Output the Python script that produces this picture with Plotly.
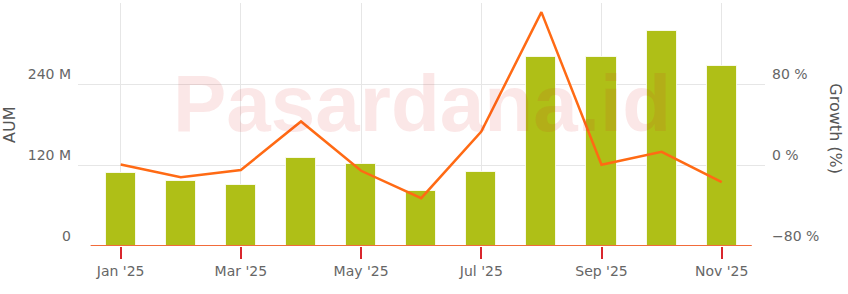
import plotly.graph_objects as go

months = ["Jan '25", "Feb '25", "Mar '25", "Apr '25", "May '25", "Jun '25",
          "Jul '25", "Aug '25", "Sep '25", "Oct '25", "Nov '25"]
aum_m = [108, 96, 89.7, 130, 122, 81, 110, 280.6, 280, 318.7, 266]
growth_pct = [0.5, -12, -5, 43, -5.7, -32.7, 33, 151, 0.3, 13, -17]

aum_ticks = [0, 120, 240, 360]
aum_ticktext = ["0", "120 M", "240 M", ""]
growth_ticks = [-80, 0, 80, 160]
growth_ticktext = ["\u221280 %", "0 %", "80 %", ""]

FONT = "DejaVu Sans"
TICKCOL = "#666666"

fig = go.Figure()
fig.add_trace(go.Bar(
    x=months, y=aum_m, width=0.5,
    marker=dict(color="#AFBF17", line=dict(color="rgba(255,255,255,0.8)", width=1)),
    yaxis="y", showlegend=False,
))
fig.add_trace(go.Scatter(
    x=months, y=growth_pct, mode="lines",
    line=dict(color="#FF6A14", width=2.5),
    yaxis="y2", showlegend=False,
))

fig.update_layout(
    width=848, height=294,
    margin=dict(l=78, r=83, t=3, b=48),
    paper_bgcolor="white", plot_bgcolor="white",
    font=dict(family=FONT, size=14, color=TICKCOL),
    xaxis=dict(
        type="category", range=[-0.71, 10.72],
        tickvals=months[::2], ticktext=months[::2],
        showgrid=True, gridcolor="#e6e6e6", gridwidth=1,
        ticks="outside", ticklen=12, tickcolor="#D9262E", tickwidth=1.5,
        showline=False, zeroline=False,
        tickfont=dict(family=FONT, size=14, color=TICKCOL),
    ),
    yaxis=dict(
        range=[0, 360], tickvals=aum_ticks, ticktext=aum_ticktext,
        showgrid=True, gridcolor="#e6e6e6", gridwidth=1,
        zeroline=False, showline=False, ticks="",
        ticklabelposition="outside top",
        ticklabelstandoff=6,
        tickfont=dict(family=FONT, size=14, color=TICKCOL),
    ),
    yaxis2=dict(
        overlaying="y", side="right",
        range=[-80, 160], tickvals=growth_ticks, ticktext=growth_ticktext,
        showgrid=False, zeroline=False, showline=False, ticks="",
        ticklabelposition="outside top",
        ticklabelstandoff=6,
        tickfont=dict(family=FONT, size=14, color=TICKCOL),
    ),
    bargap=0,
)

# orange axis baseline spanning the category band
fig.add_shape(type="line", xref="x", yref="y",
              x0=-0.5, x1=len(months) - 0.5, y0=0, y1=0,
              line=dict(color="#F26B3A", width=2), layer="above")

# watermark
fig.add_annotation(text="<b>Pasardana.id</b>", xref="paper", yref="paper",
                   x=0.5, y=0.585, xanchor="center", yanchor="middle",
                   showarrow=False,
                   font=dict(family="Liberation Sans", size=80,
                             color="rgba(220,40,40,0.11)"))

# axis titles
fig.add_annotation(text="AUM", xref="paper", yref="paper",
                   x=-0.099, y=0.498, xanchor="center", yanchor="middle",
                   textangle=-90, showarrow=False,
                   font=dict(family=FONT, size=16, color="#555555"))
fig.add_annotation(text="Growth (%)", xref="paper", yref="paper",
                   x=1.103, y=0.481, xanchor="center", yanchor="middle",
                   textangle=90, showarrow=False,
                   font=dict(family=FONT, size=16, color="#555555"))

fig.write_html("out.html")
